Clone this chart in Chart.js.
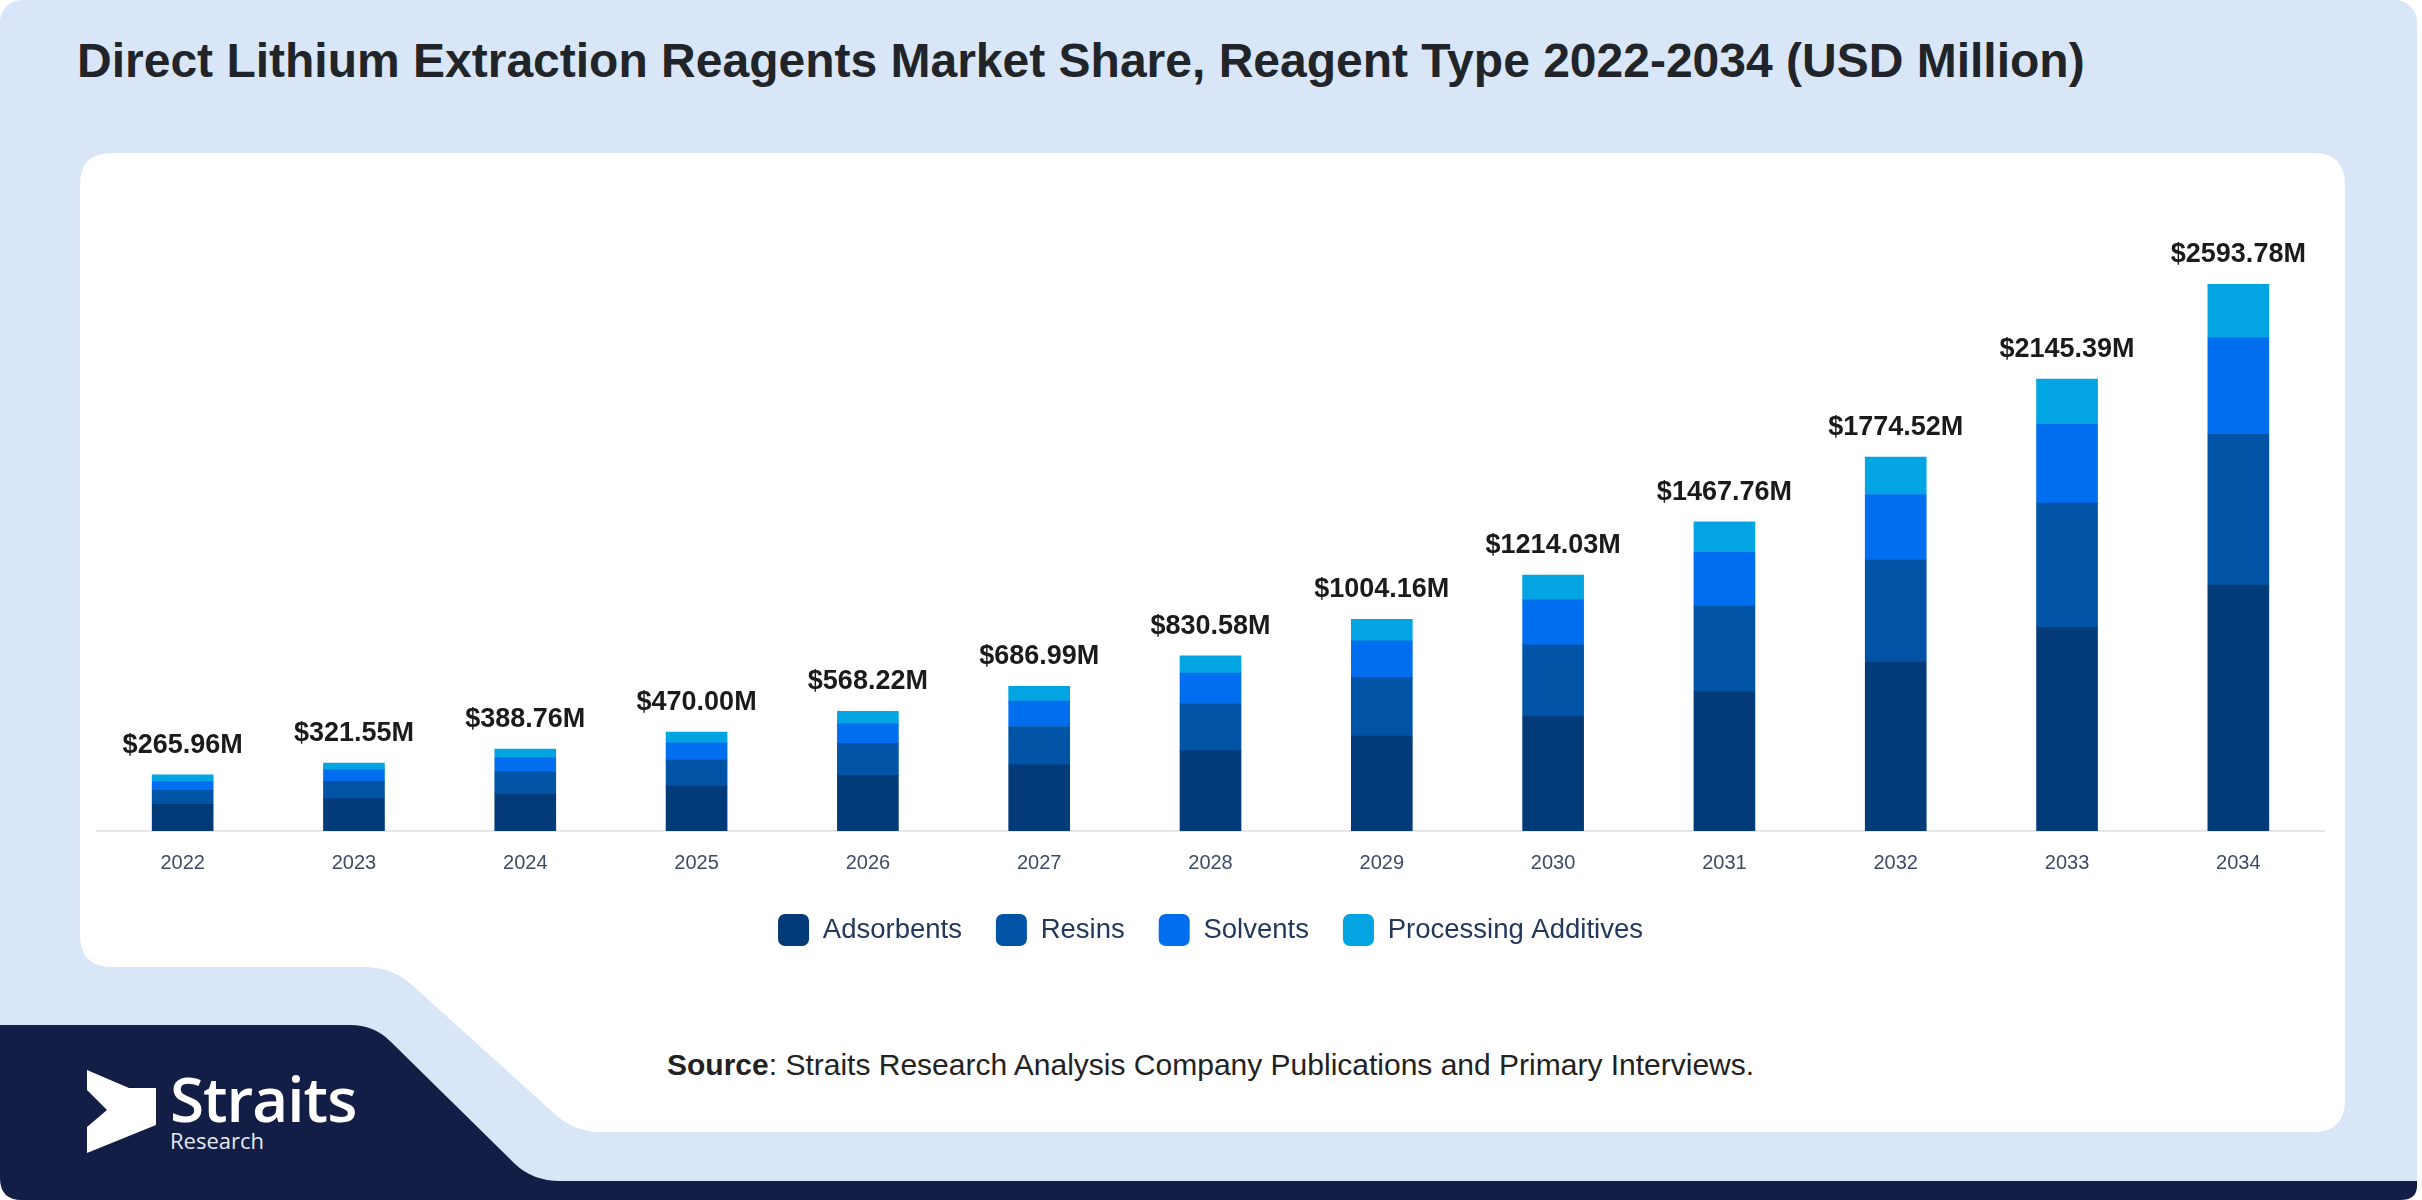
<!DOCTYPE html>
<html>
<head>
<meta charset="utf-8">
<title>Direct Lithium Extraction Reagents Market Share</title>
<script src="https://cdn.jsdelivr.net/npm/chart.js@4.4.1/dist/chart.umd.min.js"></script>
<style>
  html, body { margin: 0; padding: 0; background: #ffffff; }
  body { width: 2422px; height: 1200px; position: relative; overflow: hidden; font-family: "Liberation Sans", Arial, sans-serif; }
  #bg { position: absolute; left: 0; top: 0; }
  .title { position: absolute; left: 77px; top: 33px; margin: 0; font-size: 48px; font-weight: bold; color: #212529; white-space: nowrap; }
  #chartBox { position: absolute; left: 80px; top: 153px; width: 2265px; height: 803px; }
  .source { position: absolute; left: 667px; top: 1048px; font-size: 30px; color: #222; white-space: nowrap; }
  .logo { position: absolute; left: 170px; top: 1067px; color: #fff; font-family: "Open Sans", sans-serif; }
  .logo .big { font-size: 62px; font-weight: 600; line-height: 62px; letter-spacing: -1px; }
  .logo .small { font-size: 22px; line-height: 22px; color: #e6e9f2; }
</style>
</head>
<body>
<svg id="bg" width="2422" height="1200" viewBox="0 0 2422 1200">
  <rect x="0" y="0" width="2417" height="1200" rx="22" fill="#d9e6f8"/>
  <!-- white panel with the notch at bottom left -->
  <path fill="#ffffff" d="M112,153 H2313 Q2345,153 2345,185 V1100 Q2345,1132 2313,1132 H600 Q575,1132 556,1115 L412,985 Q392,967 364,967 H112 Q80,967 80,935 V185 Q80,153 112,153 Z"/>
  <!-- navy band -->
  <path fill="#121e46" d="M0,1025 H350 Q374,1025 390,1041 L515,1164 Q533,1181 560,1181 H2417 V1186 Q2417,1200 2400,1200 H22 Q0,1200 0,1178 Z"/>
  <!-- logo mark -->
  <polygon fill="#ffffff" points="87,1070 129,1088 156,1088 156,1125 87,1153 87,1127 107,1110 87,1090"/>
</svg>

<h1 class="title">Direct Lithium Extraction Reagents Market Share, Reagent Type 2022-2034 (USD Million)</h1>

<div id="chartBox"><canvas id="chart"></canvas></div>

<div class="source"><b>Source</b>: Straits Research Analysis Company Publications and Primary Interviews.</div>

<div class="logo"><div class="big">Straits</div><div class="small">Research</div></div>

<script>
// values (USD Million)
var years = ['2022', '2023', '2024', '2025', '2026', '2027', '2028', '2029', '2030', '2031', '2032', '2033', '2034'];
var adsorbents = [127, 153, 178, 213, 263, 314, 380, 451, 543, 661, 802, 965, 1167];
var resins = [66, 83, 103, 123, 152, 182, 225, 277, 340, 406, 484, 591, 716];
var solvents = [42, 54, 68, 82, 95, 120, 144, 175, 214, 256, 311, 374, 457];
var processingAdditives = [31, 32, 40, 52, 58, 71, 82, 101, 117, 144, 178, 215, 254];
var totals = [265.96, 321.55, 388.76, 470.00, 568.22, 686.99, 830.58, 1004.16, 1214.03, 1467.76, 1774.52, 2145.39, 2593.78];
var seriesNames = ['Adsorbents', 'Resins', 'Solvents', 'Processing Additives'];
var seriesColors = ['#023b78', '#0153a5', '#006eee', '#02a5e2'];

// total value above every stack
var totalLabels = {
    id: 'totalLabels',
    afterDatasetsDraw: function(chart) {
        var ctx = chart.ctx;
        var meta = chart.getDatasetMeta(chart.data.datasets.length - 1);
        ctx.save();
        ctx.font = 'bold 27px "Liberation Sans", Arial, sans-serif';
        ctx.fillStyle = '#1b1b1b';
        ctx.textAlign = 'center';
        ctx.textBaseline = 'alphabetic';
        meta.data.forEach(function(bar, i) {
            ctx.fillText('$' + totals[i].toFixed(2) + 'M', bar.x, bar.y - 22);
        });
        ctx.restore();
    }
};

var seriesData = [adsorbents, resins, solvents, processingAdditives];
var datasets = seriesNames.map(function(name, i) {
    return {
        label: name,
        data: seriesData[i],
        backgroundColor: seriesColors[i],
        borderWidth: 0,
        barThickness: 61
    };
});

var ctx = document.getElementById('chart');
var chart = new Chart(ctx, {
    type: 'bar',
    data: { labels: years, datasets: datasets },
    plugins: [totalLabels],
    options: {
        responsive: true,
        maintainAspectRatio: false,
        animation: false,
        layout: { padding: { left: 17, right: 21, top: 88, bottom: 0 } },
        scales: {
            x: {
                stacked: true,
                offset: true,
                grid: { display: false },
                border: { display: true, color: '#e4e7eb', width: 2 },
                ticks: {
                    color: '#3d4b66',
                    padding: 12,
                    font: { family: '"Liberation Sans", Arial, sans-serif', size: 20 }
                },
                // pull the legend closer to the axis labels
                afterFit: function(scale) {
                    scale.height -= 7;
                }
            },
            y: {
                stacked: true,
                display: false,
                min: 0,
                max: 2800
            }
        },
        plugins: {
            legend: {
                position: 'bottom',
                labels: {
                    boxWidth: 31,
                    boxHeight: 32,
                    padding: 34,
                    useBorderRadius: true,
                    borderRadius: 7,
                    color: '#22385c',
                    font: { family: '"Liberation Sans", Arial, sans-serif', size: 27.5 }
                }
            },
            tooltip: { enabled: false }
        }
    }
});
</script>
</body>
</html>
